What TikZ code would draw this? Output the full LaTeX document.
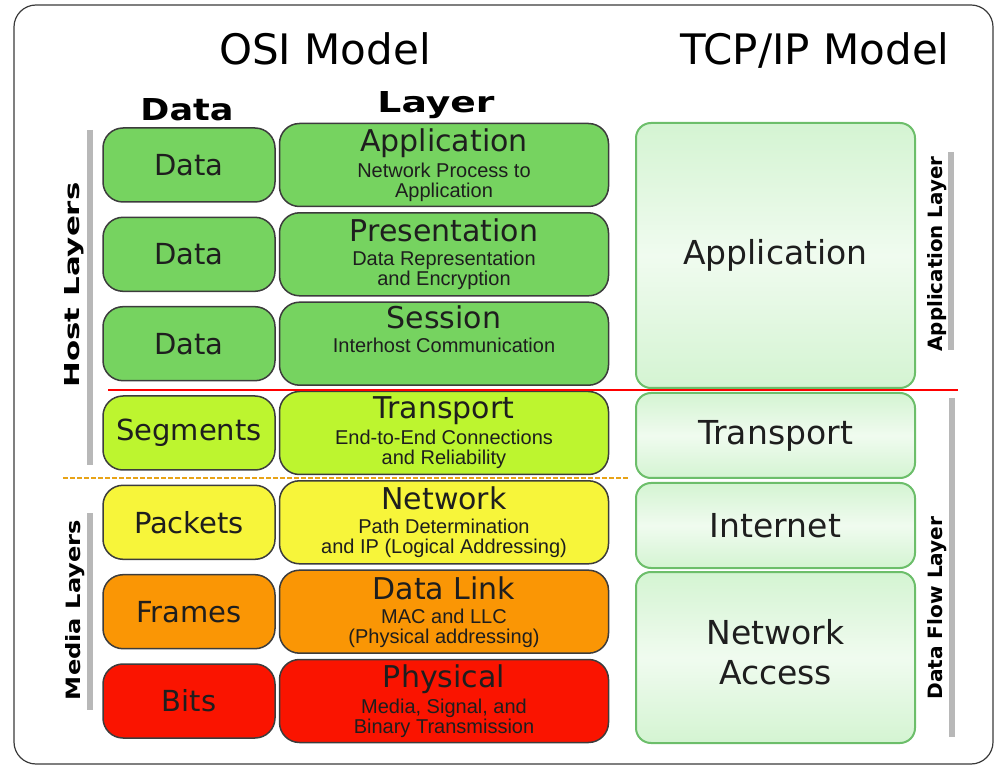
\documentclass[tikz,border=0pt]{standalone}
\usepackage{fontspec}
\setmainfont{DejaVu Sans}
\newfontfamily\boxfont{DejaVu Sans}
\newfontfamily\narrowfont{Liberation Sans}
\usetikzlibrary{positioning}

\definecolor{hostgreen}{HTML}{76D360}
\definecolor{segcolor}{HTML}{BDF52F}
\definecolor{pktcolor}{HTML}{F7F53A}
\definecolor{frmcolor}{HTML}{FA9605}
\definecolor{bitcolor}{HTML}{FA1400}
\definecolor{boxline}{HTML}{3C3C3C}
\definecolor{textdark}{HTML}{1E1E1E}
\definecolor{tcpfill}{HTML}{D4F4D2}
\definecolor{tcpline}{HTML}{6CBE6A}
\definecolor{barcol}{HTML}{B8B8B8}
\definecolor{framecol}{HTML}{3A3A3A}
\definecolor{splitorange}{HTML}{E8A317}

\newcommand{\layername}[1]{{\boxfont\fontsize{30}{30}\selectfont #1}}

\tikzset{
	databox/.style={draw=boxline, line width=1.5pt, rounded corners=20pt,
		minimum width=172pt, minimum height=74pt, inner sep=0pt, text=textdark,
		font=\boxfont\fontsize{29}{32}\selectfont},
	layerbox/.style={draw=boxline, line width=1.5pt, rounded corners=20pt,
		minimum width=329pt, minimum height=83pt, inner sep=0pt, text=textdark,
		align=center, font=\narrowfont\fontsize{20}{20}\selectfont},
	tcpbox/.style={draw=tcpline, line width=2pt, rounded corners=15pt,
		minimum width=279pt, inner sep=0pt, text=textdark, align=center,
		top color=tcpfill, bottom color=tcpfill, middle color=tcpfill!35,
		font=\boxfont\fontsize{33}{40}\selectfont},
	sidelabel/.style={rotate=90, inner sep=0pt, font=\bfseries},
	sidebar/.style={draw=barcol, line width=6pt},
}

\begin{document}
\begin{tikzpicture}[x=1pt,y=-1pt]

	\useasboundingbox (0,0) rectangle (997,767);
	\draw[framecol, line width=1.2pt, rounded corners=22pt] (14,5) rectangle (993,764);

	% headers
	\node[anchor=base, inner sep=0pt] (osi) at (325,65) {\fontsize{42}{42}\selectfont OSI Model};
	\node[anchor=base, inner sep=0pt] (tcpip) at (815,65) {\fontsize{42}{42}\selectfont TCP/IP Model};
	\node[anchor=base, inner sep=0pt] (hdata) at (187,121) {\resizebox{93pt}{22pt}{\bfseries Data}};
	\node[anchor=base, inner sep=0pt] (hlayer) at (436,113) {\resizebox{117pt}{21pt}{\bfseries Layer}};

	% OSI data units
	\node[databox, fill=hostgreen] (dApp) at (189,165) {Data};
	\node[databox, fill=hostgreen] (dPres) at (189,254.3) {Data};
	\node[databox, fill=hostgreen] (dSess) at (189,343.7) {Data};
	\node[databox, fill=segcolor] (dTrans) at (189,433) {Segments};
	\node[databox, fill=pktcolor] (dNet) at (189,522.3) {Packets};
	\node[databox, fill=frmcolor] (dLink) at (189,611.7) {Frames};
	\node[databox, fill=bitcolor] (dPhys) at (189,701) {Bits};

	% OSI layers
	\node[layerbox, fill=hostgreen, right=3pt of dApp] (lApp) {\layername{Application}\\[4pt] Network Process to\\ Application};
	\node[layerbox, fill=hostgreen, right=3pt of dPres] (lPres) {\layername{Presentation}\\[4pt] Data Representation\\ and Encryption};
	\node[layerbox, fill=hostgreen, right=3pt of dSess] (lSess) {\layername{Session}\\[4pt] Interhost Communication\\[10pt]};
	\node[layerbox, fill=segcolor, right=3pt of dTrans] (lTrans) {\layername{Transport}\\[4pt] End-to-End Connections\\ and Reliability};
	\node[layerbox, fill=pktcolor, right=3pt of dNet] (lNet) {\layername{Network}\\[4pt] Path Determination\\ and IP (Logical Addressing)};
	\node[layerbox, fill=frmcolor, right=3pt of dLink] (lLink) {\layername{Data Link}\\[4pt] MAC and LLC\\ (Physical addressing)};
	\node[layerbox, fill=bitcolor, right=3pt of dPhys] (lPhys) {\layername{Physical}\\[4pt] Media, Signal, and\\ Binary Transmission};

	% TCP/IP layers
	\node[tcpbox, minimum height=265pt] (tApp) at (775.5,255.5) {Application};
	\node[tcpbox, minimum height=85pt] (tTrans) at (775.5,435.5) {Transport};
	\node[tcpbox, minimum height=85pt] (tInet) at (775.5,525.5) {Internet};
	\node[tcpbox, minimum height=171pt] (tAcc) at (775.5,657.5) {Network\\ Access\\[-28pt]};

	% separators
	\draw[red, line width=2pt] (108,390) -- (958,390);
	\draw[splitorange, line width=1.3pt, dash pattern=on 5pt off 2pt] (63,478) -- (628,478);

	% side bars and labels
	\draw[sidebar] (90,130) -- (90,465);
	\draw[sidebar] (90,513) -- (90,710);
	\draw[sidebar] (951,152) -- (951,350);
	\draw[sidebar] (952,398) -- (952,737);
	\node[sidelabel] (host) at (74,285) {\resizebox{205pt}{15pt}{Host Layers}};
	\node[sidelabel] (media) at (75,610) {\resizebox{180pt}{15pt}{Media Layers}};
	\node[sidelabel] (appl) at (937,254) {\resizebox{195pt}{15pt}{Application Layer}};
	\node[sidelabel] (flow) at (937,608) {\resizebox{183pt}{15pt}{Data Flow Layer}};

\end{tikzpicture}
\end{document}
